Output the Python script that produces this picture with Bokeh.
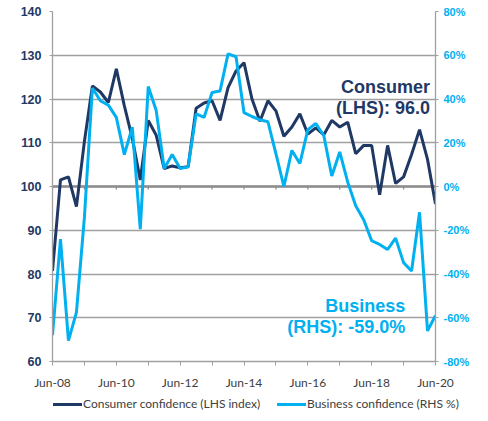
from bokeh.plotting import figure
from bokeh.layouts import column
from bokeh.models import (Range1d, LinearAxis, Span, Label, Div,
                          PrintfTickFormatter)
from bokeh.embed import file_html
from bokeh.resources import INLINE

# quarterly, Jun-08 .. Jun-20
consumer = [80.7, 101.5, 102.2, 95.4, 110.3, 123.0, 121.6, 119.2, 126.9, 118.5,
            111.0, 101.5, 115.1, 111.7, 104.1, 104.7, 104.3, 104.5, 117.9, 119.1,
            119.6, 115.1, 122.6, 126.4, 128.3, 120.0, 114.9, 119.6, 117.3, 111.5,
            113.6, 116.6, 112.0, 113.4, 111.8, 115.1, 113.6, 114.7, 107.5, 109.4,
            109.4, 98.1, 109.4, 100.7, 102.2, 107.3, 113.0, 106.2, 96.0]
business = [-68.0, -24.0, -70.5, -57.5, -14.0, 45.0, 39.2, 37.2, 31.6, 14.6,
            27.1, -19.5, 45.7, 34.7, 8.2, 14.6, 8.2, 9.0, 33.2, 31.6,
            43.0, 43.7, 60.6, 59.3, 33.8, 32.0, 30.5, 29.6, 15.0, 0.0,
            16.5, 10.5, 26.0, 28.8, 23.3, 4.8, 15.8, 2.0, -8.8, -15.2,
            -24.8, -26.5, -28.8, -23.6, -34.8, -38.6, -11.8, -66.0, -59.0]
quarter = list(range(len(consumer)))

year_ticks = [0, 4, 8, 12, 16, 20, 24, 28, 32, 36, 40, 44, 48]
year_labels = ["Jun-08", "", "Jun-10", "", "Jun-12", "", "Jun-14", "",
               "Jun-16", "", "Jun-18", "", "Jun-20"]
lhs_ticks = [60, 70, 80, 90, 100, 110, 120, 130, 140]
rhs_ticks = [-80, -60, -40, -20, 0, 20, 40, 60, 80]
series_names = ["Consumer confidence (LHS index)", "Business confidence (RHS %)"]

NAVY = "#1F3864"
CYAN = "#00B0F0"
GREY = "#A0A0A0"
TEXT = "#404040"

p = figure(width=472, height=392, x_range=Range1d(0, 48), y_range=Range1d(60, 140),
           output_backend="svg", toolbar_location=None,
           min_border_left=52, min_border_right=34, min_border_top=11,
           min_border_bottom=28)
p.extra_y_ranges = {"rhs": Range1d(-80, 80)}
p.outline_line_color = None
p.xgrid.visible = False
p.ygrid.grid_line_color = GREY
p.ygrid.grid_line_width = 1.3

# the 100 / 0% crossing line with its year ticks
p.add_layout(Span(location=100, dimension="width", line_color="#8C8C8C",
                  line_width=2.5, level="underlay"))
p.segment(x0=year_ticks, y0=[100] * len(year_ticks), x1=year_ticks,
          y1=[99.3] * len(year_ticks), line_color="#8C8C8C", line_width=1.3,
          level="underlay")

p.line(quarter, consumer, line_color=NAVY, line_width=3)
p.line(quarter, business, y_range_name="rhs", line_color=CYAN, line_width=3)

# x axis
p.xaxis.ticker = year_ticks
p.xaxis.major_label_overrides = dict(zip(year_ticks, year_labels))
p.xaxis.major_label_text_font = "Lato"
p.xaxis.major_label_text_font_size = "12px"
p.xaxis.major_label_text_color = TEXT
p.xaxis.axis_line_color = GREY
p.xaxis.axis_line_width = 1.3
p.xaxis.major_tick_line_color = GREY
p.xaxis.major_tick_out = 4
p.xaxis.major_tick_in = 0
p.xaxis.minor_tick_line_color = None
p.xaxis.major_label_standoff = 9

# left axis
p.yaxis.ticker = lhs_ticks
p.yaxis.major_label_text_font = "Liberation Sans"
p.yaxis.major_label_text_font_style = "bold"
p.yaxis.major_label_text_font_size = "12.5px"
p.yaxis.major_label_text_color = NAVY
p.yaxis.axis_line_color = GREY
p.yaxis.axis_line_width = 1.3
p.yaxis.major_tick_line_color = GREY
p.yaxis.major_tick_out = 3
p.yaxis.major_tick_in = 0
p.yaxis.minor_tick_line_color = None
p.yaxis.major_label_standoff = 8

# right axis
rax = LinearAxis(y_range_name="rhs", ticker=rhs_ticks,
                 formatter=PrintfTickFormatter(format="%d%%"))
rax.major_label_text_font = "Liberation Sans"
rax.major_label_text_font_style = "bold"
rax.major_label_text_font_size = "11px"
rax.major_label_text_color = CYAN
rax.axis_line_color = GREY
rax.axis_line_width = 1.3
rax.major_tick_line_color = GREY
rax.major_tick_out = 3
rax.major_tick_in = 0
rax.minor_tick_line_color = None
rax.major_label_standoff = 5
p.add_layout(rax, "right")

# end-value annotations
for txt, x, y, col in [("Consumer", 47.3, 122.7, NAVY),
                       ("(LHS): 96.0", 47.3, 117.9, NAVY),
                       ("Business", 44.2, 72.7, CYAN),
                       ("(RHS): -59.0%", 44.2, 67.9, CYAN)]:
    p.add_layout(Label(x=x, y=y, text=txt, text_align="right",
                       text_baseline="middle", text_font="Liberation Sans",
                       text_font_style="bold", text_font_size="18px",
                       text_color=col))

# legend strip underneath the chart
items = ""
for name, col, left in [(series_names[0], NAVY, 48), (series_names[1], CYAN, 272)]:
    items += (f'<span style="position:absolute;left:{left}px;top:0;white-space:nowrap;">'
              f'<span style="display:inline-block;width:29px;height:3px;background:{col};'
              f'vertical-align:middle;margin-right:1px;"></span>{name}</span>')
legend = Div(text=f'<div style="position:relative;width:472px;height:13px;'
                  f'font-family:Lato, sans-serif;font-size:12px;line-height:13px;'
                  f'color:{TEXT};">{items}</div>', width=472, height=13)

open("out.html", "w").write(file_html(column(p, legend, spacing=0), INLINE))
